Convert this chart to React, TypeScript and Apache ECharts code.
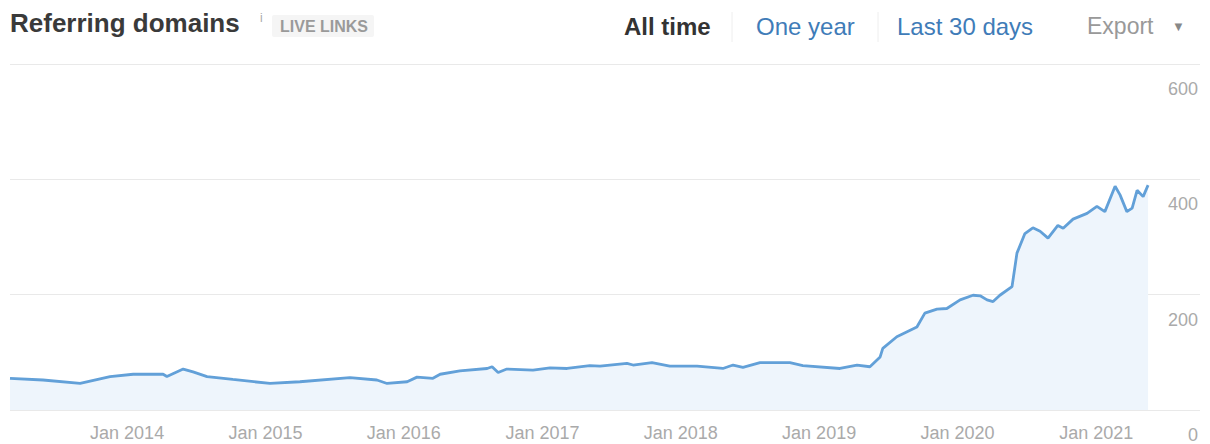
import React, { useEffect, useRef } from "react";
import * as echarts from "echarts";

const dates = [
  "2013-02-26", "2013-05-24", "2013-08-30", "2013-11-17", "2014-01-17", "2014-04-06",
  "2014-04-16", "2014-05-29", "2014-06-24", "2014-07-31", "2014-10-07", "2015-01-13",
  "2015-04-02", "2015-08-12", "2015-10-22", "2015-11-18", "2016-01-10", "2016-02-05",
  "2016-03-18", "2016-04-06", "2016-05-28", "2016-08-08", "2016-08-21", "2016-09-06",
  "2016-09-29", "2016-12-07", "2017-01-21", "2017-03-07", "2017-05-06", "2017-06-02",
  "2017-08-12", "2017-08-28", "2017-10-17", "2017-12-03", "2018-02-13", "2018-04-22",
  "2018-05-19", "2018-06-14", "2018-07-29", "2018-10-16", "2018-11-19", "2019-02-25",
  "2019-04-11", "2019-05-15", "2019-06-11", "2019-06-18", "2019-07-25", "2019-09-16",
  "2019-10-07", "2019-11-08", "2019-12-04", "2020-01-08", "2020-02-11", "2020-03-01",
  "2020-03-19", "2020-04-04", "2020-04-22", "2020-05-24", "2020-06-06", "2020-06-27",
  "2020-07-18", "2020-08-06", "2020-08-27", "2020-09-22", "2020-10-06", "2020-11-01",
  "2020-12-08", "2021-01-03", "2021-01-24", "2021-02-20", "2021-03-05", "2021-03-23",
  "2021-04-06", "2021-04-19", "2021-05-05", "2021-05-18",
];
const values = [
  55, 52, 46, 58, 62, 62,
  58, 71, 66, 58, 53, 46,
  49, 56, 52, 46, 49, 57,
  55, 62, 68, 72, 75, 65,
  71, 69, 73, 72, 77, 76,
  81, 78, 82, 76, 76, 72,
  78, 74, 82, 82, 77, 72,
  78, 75, 92, 107, 127, 144,
  168, 175, 176, 191, 199, 198,
  191, 188, 199, 214, 272, 306,
  316, 310, 298, 320, 315, 331,
  341, 353, 344, 388, 373, 344,
  350, 381, 370, 390,
];
const tickYears = [2014, 2015, 2016, 2017, 2018, 2019, 2020, 2021];
const yTicks = { min: 0, max: 600, interval: 200 };
const axisStart = "2013-02-26";
const axisEnd = "2021-10-02";

const FONT = "'Liberation Sans', Arial, Helvetica, sans-serif";

function ts(d: string): number {
  const [y, m, day] = d.split("-").map(Number);
  return Date.UTC(y, m - 1, day);
}

export default function App() {
  const ref = useRef<HTMLDivElement>(null);
  useEffect(() => {
    if (!ref.current) return;
    const chart = echarts.init(ref.current, null, { renderer: "svg" });
    const yearTicks = tickYears.map((y) => Date.UTC(y, 0, 1));
    chart.setOption({
      animation: false,
      textStyle: { fontFamily: FONT },
      grid: { left: 10, right: 10, top: 64, bottom: 34, outerBoundsMode: "none", containLabel: false },
      xAxis: {
        type: "value",
        min: ts(axisStart),
        max: ts(axisEnd),
        axisLine: { show: false },
        splitLine: { show: false },
        axisTick: {
          show: true,
          inside: true,
          length: 25,
          customValues: yearTicks,
          lineStyle: { color: "rgba(0,0,0,0.05)" },
        },
        axisLabel: {
          customValues: yearTicks,
          formatter: (v: number) => "Jan " + new Date(v).getUTCFullYear(),
          color: "#aaaaaa",
          fontSize: 18,
          margin: 14,
          hideOverlap: false,
          showMinLabel: true,
          showMaxLabel: true,
          fontFamily: FONT,
        },
      },
      yAxis: {
        type: "value",
        position: "right",
        min: yTicks.min,
        max: yTicks.max,
        interval: yTicks.interval,
        axisLine: { show: false },
        axisTick: { show: false },
        splitLine: { lineStyle: { color: "#e9e9e9", width: 1 } },
        axisLabel: {
          inside: true,
          margin: 2,
          verticalAlign: "top",
          padding: [16, 0, 0, 0],
          color: "#aaaaaa",
          fontSize: 18,
          fontFamily: FONT,
        },
      },
      series: [
        {
          type: "line",
          data: dates.map((d, i) => [ts(d), values[i]]),
          showSymbol: false,
          symbol: "none",
          lineStyle: { color: "#62a0d8", width: 2.8 },
          areaStyle: { color: "#eef5fc", opacity: 1 },
        },
      ],
      graphic: [
        {
          type: "text",
          left: 10,
          top: 10,
          style: { text: "Referring domains", font: `bold 26px ${FONT}`, fill: "#3a3a3a" },
        },
        {
          type: "text",
          left: 260,
          top: 12,
          style: { text: "i", font: `12px ${FONT}`, fill: "#aaaaaa" },
        },
        {
          type: "rect",
          shape: { x: 272, y: 15, width: 102, height: 22, r: 2 },
          style: { fill: "#f5f5f5" },
        },
        {
          type: "text",
          x: 324,
          y: 26,
          style: {
            text: "LIVE LINKS",
            font: `bold 16px ${FONT}`,
            fill: "#9a9a9a",
            align: "center",
            verticalAlign: "middle",
          },
        },
        {
          type: "text",
          x: 624,
          y: 26,
          style: { text: "All time", font: `bold 24px ${FONT}`, fill: "#333333", verticalAlign: "middle" },
        },
        {
          type: "line",
          shape: { x1: 732, y1: 12, x2: 732, y2: 42 },
          style: { stroke: "#eeeeee", lineWidth: 1 },
        },
        {
          type: "text",
          x: 756,
          y: 26,
          style: { text: "One year", font: `24px ${FONT}`, fill: "#3f7cb8", verticalAlign: "middle" },
        },
        {
          type: "line",
          shape: { x1: 878, y1: 12, x2: 878, y2: 42 },
          style: { stroke: "#eeeeee", lineWidth: 1 },
        },
        {
          type: "text",
          x: 897,
          y: 26,
          style: { text: "Last 30 days", font: `24px ${FONT}`, fill: "#3f7cb8", verticalAlign: "middle" },
        },
        {
          type: "text",
          x: 1087,
          y: 26,
          style: { text: "Export", font: `23px ${FONT}`, fill: "#999999", verticalAlign: "middle" },
        },
        {
          type: "text",
          x: 1172,
          y: 26,
          style: { text: "▼", font: `13px ${FONT}`, fill: "#888888", verticalAlign: "middle" },
        },
      ],
    });
    return () => chart.dispose();
  }, []);
  return (
    <div
      ref={ref}
      style={{ position: "fixed", left: 0, top: 0, width: 1210, height: 444, background: "#ffffff" }}
    />
  );
}
